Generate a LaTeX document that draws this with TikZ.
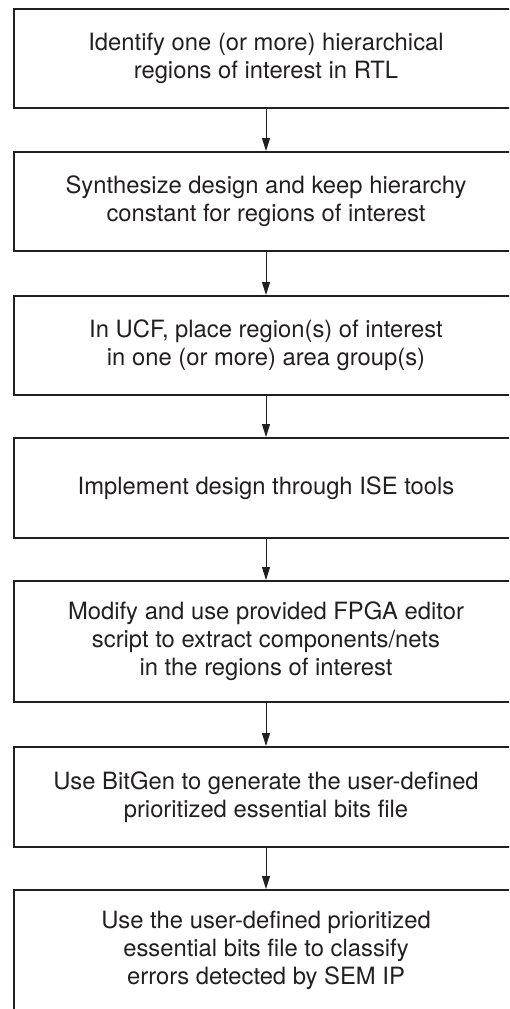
\documentclass[tikz,border=0pt]{standalone}
\usepackage{fontspec}
\setmainfont{TeX Gyre Heros}
\usetikzlibrary{arrows.meta}
\definecolor{ink}{RGB}{35,31,32}
\begin{document}
\begin{tikzpicture}[x=1pt,y=-1pt,
  stepbox/.style={draw=ink,line width=2pt,minimum width=504pt,align=center,
    text=ink,inner sep=0pt,font=\fontsize{23.8}{28}\selectfont},
  flow/.style={draw=ink,line width=1pt,-{Triangle[length=13pt,width=8pt]}}]
\useasboundingbox (0,0) rectangle (509,1009);
\clip (0,0) rectangle (509,1009);
\node[stepbox,minimum height=99pt] (b1) at (266,58.5) {Identify one (or more) hierarchical\\regions of interest in RTL};
\node[stepbox,minimum height=99pt] (b2) at (266,201.5) {Synthesize design and keep hierarchy\\constant for regions of interest};
\node[stepbox,minimum height=99pt] (b3) at (266,345.5) {In UCF, place region(s) of interest\\in one (or more) area group(s)};
\node[stepbox,minimum height=100pt] (b4) at (266,488) {Implement design through ISE tools};
\node[stepbox,minimum height=121pt] (b5) at (266,641.5) {Modify and use provided FPGA editor\\script to extract components/nets\\in the regions of interest};
\node[stepbox,minimum height=100pt] (b6) at (266,797) {Use BitGen to generate the user-defined\\prioritized essential bits file};
\node[stepbox,minimum height=121pt] (b7) at (266,950.5) {Use the user-defined prioritized\\essential bits file to classify\\errors detected by SEM IP};
\draw[flow] (b1.south) -- (b2.north);
\draw[flow] (b2.south) -- (b3.north);
\draw[flow] (b3.south) -- (b4.north);
\draw[flow] (b4.south) -- (b5.north);
\draw[flow] (b5.south) -- (b6.north);
\draw[flow] (b6.south) -- (b7.north);
\end{tikzpicture}
\end{document}
